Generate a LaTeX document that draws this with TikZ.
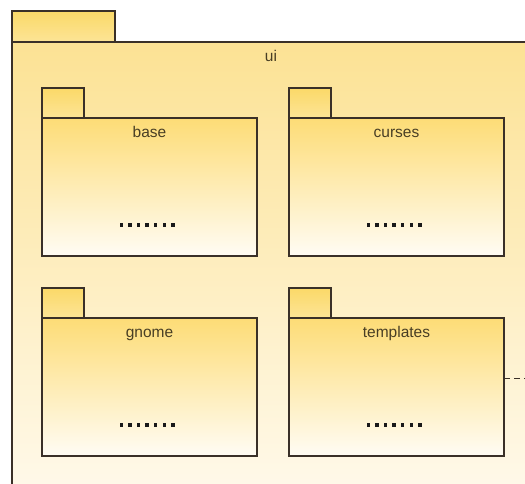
\documentclass[tikz,border=0pt]{standalone}
\usepackage{fontspec}
\setmainfont{Liberation Sans}
\definecolor{edge}{RGB}{58,48,40}
\definecolor{outertop}{RGB}{252,226,148}
\definecolor{outerbot}{RGB}{255,249,234}
\definecolor{pkgtop}{RGB}{253,220,118}
\definecolor{pkgbot}{RGB}{255,252,244}
\definecolor{tabtop}{RGB}{251,217,104}
\definecolor{tabbot}{RGB}{252,228,150}
\definecolor{labelc}{RGB}{72,62,36}
% elided content marker: seven square dots
\newcommand{\elidedmark}{\rule{3.4pt}{3.4pt}%
  \foreach \k in {1,...,6}{\hspace{5.2pt}\rule{3.4pt}{3.4pt}}}
\begin{document}
\begin{tikzpicture}[x=1pt,y=-1pt,
  frame/.style={draw=edge, line width=1.4pt, inner sep=0pt, outer sep=0pt, anchor=north west},
  tabbox/.style={frame, top color=tabtop, bottom color=tabbot, minimum width=42pt, minimum height=30pt},
  bodybox/.style={frame, top color=pkgtop, bottom color=pkgbot, minimum width=215pt, minimum height=138pt},
  pkgname/.style={font=\fontsize{15.5}{18}\selectfont, text=labelc, inner sep=0pt, anchor=base},
  elided/.style={text=black!90, inner sep=0pt}]
\useasboundingbox (0,0) rectangle (525,483);
\clip (0,0) rectangle (525,483);
\fill[white] (0,0) rectangle (525,483);

% enclosing package "ui"
\node[frame, top color=tabtop, bottom color=tabbot, minimum width=103pt, minimum height=31pt] (uitab) at (12,11) {};
\node[frame, top color=outertop, bottom color=outerbot, minimum width=518pt, minimum height=450pt] (ui) at (12,42) {};
\node[pkgname] (uiname) at (271,61) {ui};

% nested packages
\node[tabbox] (basetab) at (42,88) {};
\node[bodybox] (base) at (42,118) {};
\node[pkgname] (basename) at (149.5,137) {base};
\node[elided] (basedots) at (147,225) {\elidedmark};

\node[tabbox] (cursestab) at (289,88) {};
\node[bodybox] (curses) at (289,118) {};
\node[pkgname] (cursesname) at (396.5,137) {curses};
\node[elided] (cursesdots) at (394,225) {\elidedmark};

\node[tabbox] (gnometab) at (42,288) {};
\node[bodybox] (gnome) at (42,318) {};
\node[pkgname] (gnomename) at (149.5,337) {gnome};
\node[elided] (gnomedots) at (147,425) {\elidedmark};

\node[tabbox] (templatestab) at (289,288) {};
\node[bodybox] (templates) at (289,318) {};
\node[pkgname] (templatesname) at (396.5,337) {templates};
\node[elided] (templatesdots) at (394,425) {\elidedmark};

% dependency leaving the picture
\coordinate (away) at (530,378);
\draw[edge, line width=1pt, dash pattern=on 6pt off 4pt] ([yshift=9pt]templates.east) -- (away);
\end{tikzpicture}
\end{document}
